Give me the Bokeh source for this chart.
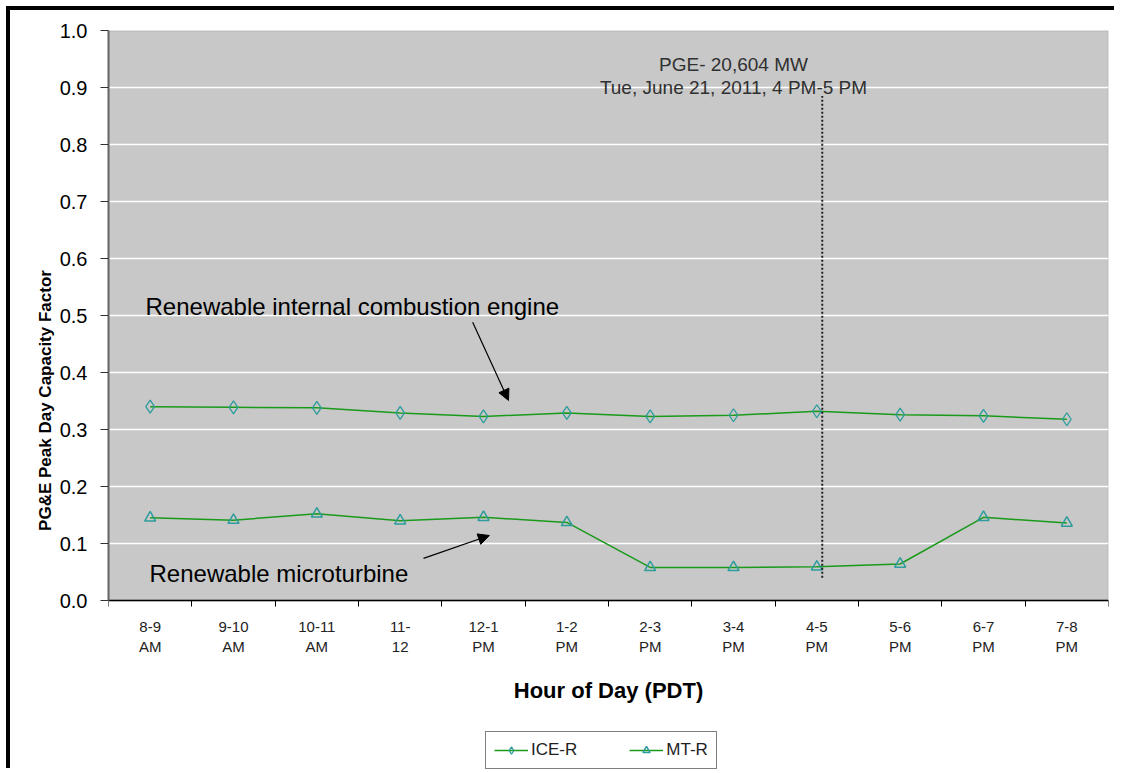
from bokeh.plotting import figure
from bokeh.models import (Range1d, FixedTicker, PrintfTickFormatter, Label, Arrow,
                          NormalHead, Legend, LegendItem, ColumnDataSource, BoxAnnotation)
from bokeh.embed import file_html
from bokeh.resources import INLINE

# ---- data ----
hours = ["8-9\nAM", "9-10\nAM", "10-11\nAM", "11-\n12", "12-1\nPM", "1-2\nPM",
         "2-3\nPM", "3-4\nPM", "4-5\nPM", "5-6\nPM", "6-7\nPM", "7-8\nPM"]
ice_r = [0.340, 0.339, 0.338, 0.329, 0.323, 0.329, 0.323, 0.325, 0.332, 0.326, 0.324, 0.318]
mt_r = [0.145, 0.141, 0.152, 0.140, 0.146, 0.137, 0.058, 0.058, 0.059, 0.064, 0.146, 0.136]
y_ticks = [0.0, 0.1, 0.2, 0.3, 0.4, 0.5, 0.6, 0.7, 0.8, 0.9, 1.0]
peak_hour = "4-5\nPM"
peak_text = ["PGE- 20,604 MW", "Tue, June 21, 2011, 4 PM-5 PM"]
series_names = ["ICE-R", "MT-R"]

FONT = "Liberation Sans"
x = list(range(len(hours)))
src = ColumnDataSource(dict(x=x, ice=ice_r, mt=mt_r))

# layout: plot area 570 px tall for 0..1; frame continues below 0 (white)
H, TOP, BOT = 762, 20, 2
frame_px = H - TOP - BOT
y_lo = 1.0 - frame_px / 570.0

p = figure(width=1108, height=H, output_backend="svg", toolbar_location=None,
           x_range=Range1d(-0.5, len(hours) - 0.5), y_range=Range1d(y_lo, 1.0),
           min_border_left=98, min_border_right=10, min_border_top=TOP,
           min_border_bottom=BOT)
p.styles = {"border-top": "4px solid black", "border-left": "4px solid black",
            "margin-top": "6px", "margin-left": "6px"}
p.background_fill_color = "white"
p.border_fill_color = "white"
p.outline_line_color = None

# plot area
p.add_layout(BoxAnnotation(bottom=0, top=1, fill_color="#c8c8c8", fill_alpha=1.0,
                           line_color="#8a8a8a", line_width=2, level="image"))

# axes
p.xaxis.fixed_location = 0
p.xaxis.ticker = FixedTicker(ticks=x, minor_ticks=[i - 0.5 for i in range(len(hours) + 1)])
p.xaxis.major_label_overrides = {i: h for i, h in enumerate(hours)}
p.xaxis.major_tick_out = 0
p.xaxis.major_tick_in = 0
p.xaxis.minor_tick_out = 6
p.xaxis.minor_tick_in = 0
p.xaxis.minor_tick_line_color = "black"
p.xaxis.axis_line_color = "black"
p.xaxis.axis_line_width = 1.5
p.xaxis.major_label_text_font = FONT
p.xaxis.major_label_text_font_size = "15px"
p.xaxis.major_label_text_color = "#222222"
p.xaxis.major_label_standoff = 11
p.xaxis.axis_label = "Hour of Day (PDT)"
p.xaxis.axis_label_text_font = FONT
p.xaxis.axis_label_text_font_style = "bold"
p.xaxis.axis_label_text_font_size = "22px"
p.xaxis.axis_label_text_color = "black"
p.xaxis.axis_label_standoff = 20

p.yaxis.bounds = (0, 1)
p.yaxis.ticker = FixedTicker(ticks=y_ticks)
p.yaxis.formatter = PrintfTickFormatter(format="%.1f")
p.yaxis.major_tick_out = 8
p.yaxis.major_tick_in = 0
p.yaxis.minor_tick_out = 0
p.yaxis.minor_tick_in = 0
p.yaxis.major_tick_line_color = "#333333"
p.yaxis.axis_line_color = "#666666"
p.yaxis.axis_line_width = 2
p.yaxis.major_label_text_font = FONT
p.yaxis.major_label_text_font_size = "20px"
p.yaxis.major_label_text_color = "black"
p.yaxis.major_label_standoff = 13
p.yaxis.axis_label = "PG&E Peak Day Capacity Factor"
p.yaxis.axis_label_text_font = FONT
p.yaxis.axis_label_text_font_style = "bold"
p.yaxis.axis_label_text_font_size = "17px"
p.yaxis.axis_label_text_color = "black"
p.yaxis.axis_label_standoff = 2

p.xgrid.grid_line_color = None
p.ygrid.ticker = FixedTicker(ticks=y_ticks[1:-1])
p.ygrid.grid_line_color = "white"
p.ygrid.grid_line_width = 1.5

# series
LINE = "#1a9a1a"
MARK = "#2e9c9c"
l1 = p.line("x", "ice", source=src, line_color=LINE, line_width=1.5)
m1 = p.scatter("x", "ice", source=src, marker="diamond", size=13,
               fill_color=None, line_color=MARK, line_width=1.3)
l2 = p.line("x", "mt", source=src, line_color=LINE, line_width=1.5)
m2 = p.scatter("x", "mt", source=src, marker="triangle", size=11,
               fill_color=None, line_color=MARK, line_width=1.5)

# peak marker line
pi_ = hours.index(peak_hour)
px = pi_ + 0.065
p.segment(x0=[px], y0=[0.04], x1=[px], y1=[0.885], line_color="#222222",
          line_width=2, line_dash="2 2")
p.add_layout(Label(x=pi_ - 1.0, y=0.940, text=peak_text[0], text_align="center",
                   text_baseline="alphabetic", text_font=FONT, text_font_size="19px",
                   text_color="#303030"))
p.add_layout(Label(x=pi_ - 1.0, y=0.900, text=peak_text[1], text_align="center",
                   text_baseline="alphabetic", text_font=FONT, text_font_size="19px",
                   text_color="#303030"))

# callouts
p.add_layout(Label(x=-0.056, y=0.516, text="Renewable internal combustion engine",
                   text_baseline="alphabetic", text_font=FONT, text_font_size="24px",
                   text_color="black"))
p.add_layout(Label(x=-0.008, y=0.047, text="Renewable microturbine",
                   text_baseline="alphabetic", text_font=FONT, text_font_size="24px",
                   text_color="black"))
p.add_layout(Arrow(end=NormalHead(size=11, fill_color="black", line_color="black"),
                   x_start=3.87, y_start=0.488, x_end=4.30, y_end=0.351,
                   line_color="black", line_width=1.2))
p.add_layout(Arrow(end=NormalHead(size=11, fill_color="black", line_color="black"),
                   x_start=3.28, y_start=0.074, x_end=4.07, y_end=0.114,
                   line_color="black", line_width=1.2))

# legend
legend = Legend(items=[LegendItem(label=series_names[0], renderers=[l1, m1]),
                       LegendItem(label=series_names[1], renderers=[l2, m2])],
                orientation="horizontal", location=(377, 1),
                label_text_font=FONT, label_text_font_size="17px",
                label_text_color="#222222", glyph_width=34, glyph_height=18,
                label_standoff=3, spacing=52, padding=8, margin=0,
                border_line_color="black", border_line_width=1,
                background_fill_color="white", background_fill_alpha=1.0)
p.add_layout(legend, "center")

open("out.html", "w").write(file_html(p, INLINE))
